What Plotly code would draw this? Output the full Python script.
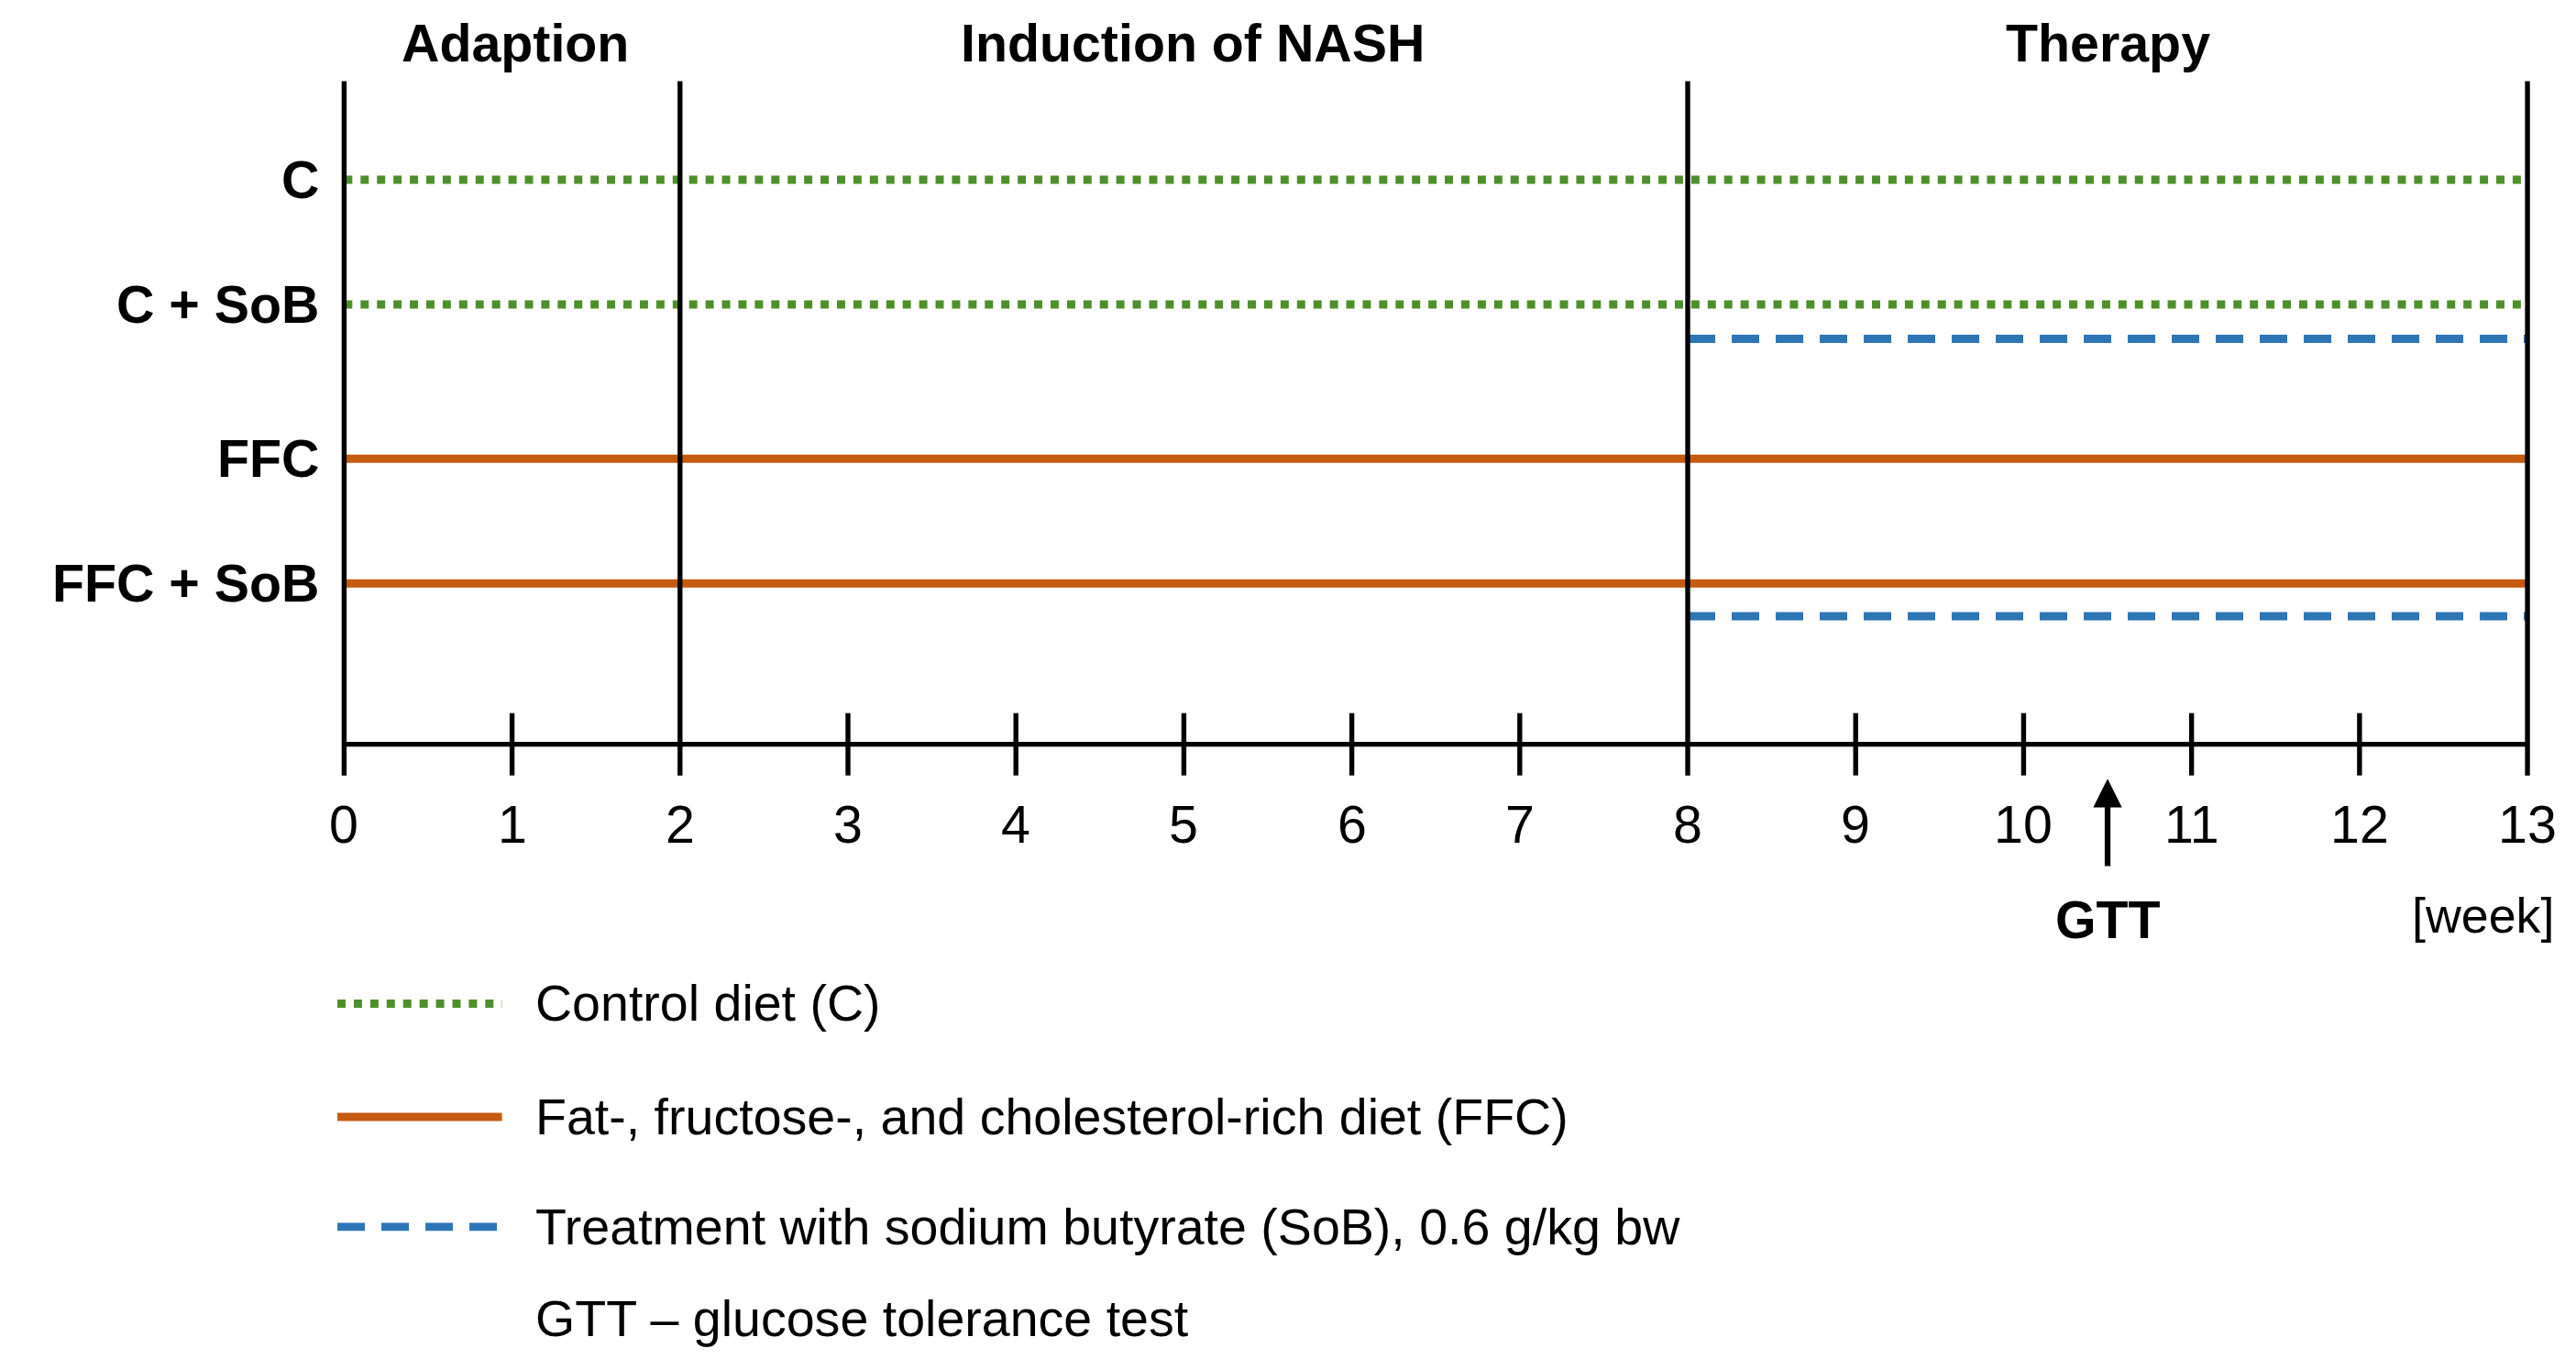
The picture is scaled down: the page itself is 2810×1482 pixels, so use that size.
import plotly.graph_objects as go

W, H = 2810, 1482
S = W / 1568.0
weeks = list(range(14))
phase_bounds = [0, 2, 8, 13]
phases = ["Adaption", "Induction of NASH", "Therapy"]
phase_centers = [1.02, 5.05, 10.5]
groups = ["C", "C + SoB", "FFC", "FFC + SoB"]
group_y = [105, 181, 275, 351]
group_diet = ["C", "C", "FFC", "FFC"]
sob_y = [None, 202, None, 371]
therapy_start, end_week = 8, 13
gtt_week = 10.5
legend_labels = ["Control diet (C)", "Fat-, fructose-, and cholesterol-rich diet (FFC)",
                 "Treatment with sodium butyrate (SoB), 0.6 g/kg bw"]
gtt_text = "GTT – glucose tolerance test"

GREEN, ORANGE, BLUE = "#4f8f2b", "#c55a11", "#2e75b6"
style = {"C": dict(color=GREEN, width=5 * S, dash="dot"),
         "FFC": dict(color=ORANGE, width=5 * S, dash="solid"),
         "SoB": dict(color=BLUE, width=5 * S, dash="30px,18px")}
FONT = "Liberation Sans, Arial"
AXY = 449

fig = go.Figure()
def seg(x, y, line):
    fig.add_trace(go.Scatter(x=x, y=y, mode="lines", line=line, hoverinfo="skip", showlegend=False))

for g, y, d, sy in zip(groups, group_y, group_diet, sob_y):
    seg([0, end_week], [y, y], style[d])
    if sy is not None:
        seg([therapy_start, end_week], [sy, sy], style["SoB"])
blk = dict(color="black", width=3 * S)
seg([0, end_week], [AXY, AXY], blk)
for w in weeks:
    if w in phase_bounds:
        seg([w, w], [45, 468], blk)
    else:
        seg([w, w], [430, 468], blk)

ann = []
def txt(x, y, t, size, bold=False, xanchor="center"):
    ann.append(dict(x=x, y=y, xref="x", yref="y", text=f"<b>{t}</b>" if bold else t,
                    showarrow=False, xanchor=xanchor, yanchor="middle",
                    font=dict(family=FONT, size=size * S, color="black")))
for p, c in zip(phases, phase_centers):
    txt(c, 22, p, 32, True)
for g, y in zip(groups, group_y):
    txt(-0.14, y, g, 32, True, "right")
for w in weeks:
    txt(w, 498, str(w), 32)
txt(13.17, 553, "[week]", 30, False, "right")
txt(gtt_week, 556, "GTT", 32, True)
ann.append(dict(x=gtt_week, y=470, ax=gtt_week, ay=524, xref="x", yref="y", axref="x", ayref="y",
                showarrow=True, arrowhead=2, arrowsize=1, arrowwidth=3.5 * S, arrowcolor="black", text=""))
leg_y = [607, 676, 743]
for k, lab, y in zip(["C", "FFC", "SoB"], legend_labels, leg_y):
    seg([-0.04, 0.94], [y, y], style[k])
    txt(1.13, y, lab, 31, False, "left")
txt(1.13, 799, gtt_text, 31, False, "left")

fig.update_layout(
    width=W, height=H, margin=dict(l=0, r=0, t=0, b=0),
    paper_bgcolor="white", plot_bgcolor="white", annotations=ann,
    xaxis=dict(range=[-205 / 102.23, (1568 - 205) / 102.23], visible=False, fixedrange=True),
    yaxis=dict(range=[828, 0], visible=False, fixedrange=True),
)
fig.write_html("out.html")
